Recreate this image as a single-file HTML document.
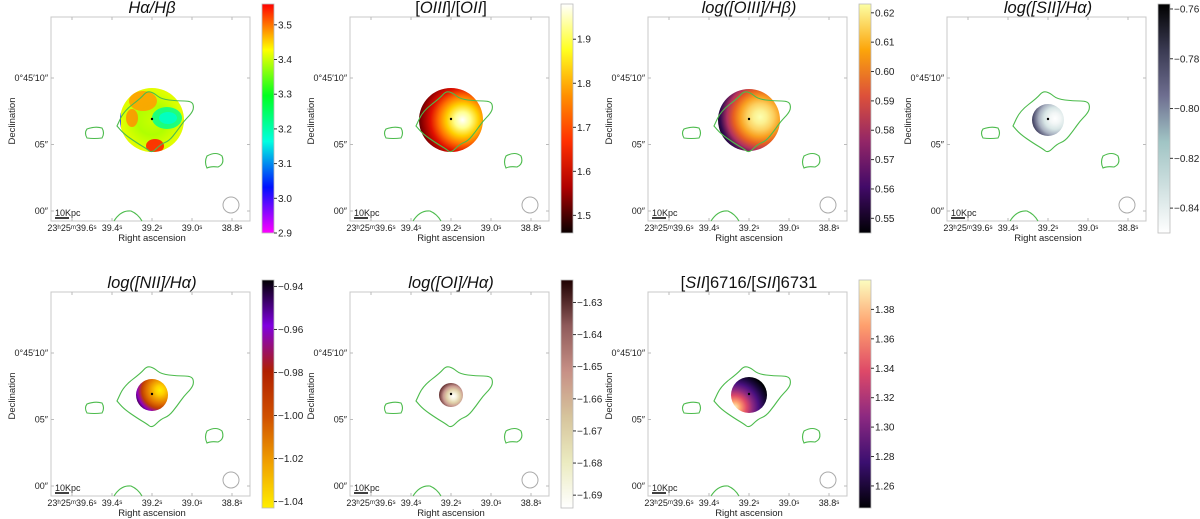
<!DOCTYPE html>
<html><head><meta charset="utf-8"><style>
html,body{margin:0;padding:0;background:#fff;}
svg{display:block;font-family:"Liberation Sans",sans-serif;}
</style></head><body>
<svg id="fig" width="1200" height="519" viewBox="0 0 1200 519" xmlns="http://www.w3.org/2000/svg"><defs id="defs"></defs></svg>
<script>
// colorbar tick values per panel
const ticks1 = [2.9,3.0,3.1,3.2,3.3,3.4,3.5];
const ticks2 = [1.5,1.6,1.7,1.8,1.9];
const ticks3 = [0.55,0.56,0.57,0.58,0.59,0.60,0.61,0.62];
const ticks4 = [-0.84,-0.82,-0.80,-0.78,-0.76];
const ticks5 = [-1.04,-1.02,-1.00,-0.98,-0.96,-0.94];
const ticks6 = [-1.69,-1.68,-1.67,-1.66,-1.65,-1.64,-1.63];
const ticks7 = [1.26,1.28,1.30,1.32,1.34,1.36,1.38];
// colorbar ranges [min,max]
const ranges = [[2.9,3.56],[1.46,1.98],[0.545,0.623],[-0.85,-0.758],[-1.043,-0.937],[-1.694,-1.623],[1.245,1.40]];
const titles = ['<tspan font-style="italic">Hα/Hβ</tspan>','[<tspan font-style="italic">OIII</tspan>]/[<tspan font-style="italic">OII</tspan>]','<tspan font-style="italic">log([OIII]/Hβ)</tspan>','<tspan font-style="italic">log([SII]/Hα)</tspan>','<tspan font-style="italic">log([NII]/Hα)</tspan>','<tspan font-style="italic">log([OI]/Hα)</tspan>','[<tspan font-style="italic">SII</tspan>]6716/[<tspan font-style="italic">SII</tspan>]6731'];
const allTicks=[ticks1,ticks2,ticks3,ticks4,ticks5,ticks6,ticks7];
const cmaps=[
 ['#ff00ff','#0010ff','#00ffe0','#00ff20','#ffff00','#ff0000'],
 ['#0a0000','#b00000','#ff3000','#ff9000','#ffff20','#ffffff'],
 ['#000004','#420a68','#932667','#dd513a','#fca50a','#fcffa4'],
 ['#ffffff','#cfe0e0','#a0c4c4','#6e6e90','#3a3a52','#000000'],
 ['#ffee00','#f0a000','#d05000','#b02000','#8000e0','#000000'],
 ['#ffffff','#ebebc0','#d6c49c','#c79086','#8f5a5a','#1e0000'],
 ['#000004','#3b0f70','#8c2981','#de4968','#fe9f6d','#fcfdbf']];
// disk maps: [radius, radial centre fx,fy, gradient radius, colors centre->edge]
const disks=[
 [32,0.5,0.5,0.7,['#c8ff00','#b0ff00','#e0ff00','#ffe000']],
 [32,0.68,0.5,0.75,['#ffffff','#ffff90','#ffd000','#ff7000','#e01000','#900000','#200000']],
 [31,0.68,0.45,0.75,['#fcffb0','#fcf090','#fcd060','#f9a020','#e86020','#b03060','#300a50','#000004']],
 [16,0.72,0.45,0.85,['#ffffff','#f2f6f6','#d8e6e6','#a8b0c0','#505070','#101018']],
 [16,0.75,0.35,0.85,['#ffee00','#ffd000','#f0a000','#e07000','#c04000','#9000c0','#100010']],
 [12,0.6,0.55,0.7,['#ffffff','#f4f0d8','#e0d0a8','#c89890','#7a4444','#2a0808']],
 [18,0.1,0.85,1.0,['#fcfdbf','#fe9f6d','#de4968','#8c2981','#4a1080','#1c0840','#000004']]];
const cols=[51,350,648,947];
const S=document.getElementById('fig'), D=document.getElementById('defs');
const NS='http://www.w3.org/2000/svg';
function el(p,t,a){const e=document.createElementNS(NS,t);for(const k in a)e.setAttribute(k,a[k]);p.appendChild(e);return e;}
function grad(id,colors,x1,y1,x2,y2){const g=el(D,'linearGradient',{id:id,x1:x1,y1:y1,x2:x2,y2:y2});colors.forEach((c,i)=>el(g,'stop',{offset:i/(colors.length-1),'stop-color':c}));}
function rgrad(id,colors,cx,cy,r){const g=el(D,'radialGradient',{id:id,cx:cx,cy:cy,r:r});colors.forEach((c,i)=>el(g,'stop',{offset:i/(colors.length-1),'stop-color':c}));}
const big=[[66,109],[73,94],[90,81],[96,74],[103,76],[110,82],[126,84],[141,84],[143,91],[140,97],[133,104],[126,114],[118,124],[110,127],[101,136],[96,132],[86,126],[73,117]];
function smooth(pts){let d='M'+pts[0].join(',');for(let i=1;i<=pts.length;i++){const p=pts[i%pts.length],q=pts[(i-1)];const mx=(p[0]+q[0])/2,my=(p[1]+q[1])/2;d+=' Q'+q[0]+','+q[1]+' '+mx+','+my;}return d+'Z';}
for(let i=0;i<7;i++){
 const L=cols[i%4], T=i<4?17:292, W=199, H=204;
 const g=el(S,'g',{transform:`translate(${L},${T})`});
 
 
 el(g,'rect',{x:0,y:0,width:W,height:H,fill:'#fff',stroke:'#c8c8c8','stroke-width':1});
 const dk=disks[i];
 rgrad('dg'+i,dk[4],dk[1],dk[2],dk[3]);
 const disk=el(g,'circle',{cx:101,cy:103,r:dk[0],fill:`url(#dg${i})`});
 
 
 if(i===0){
  const cp=el(D,'clipPath',{id:'dc0'});el(cp,'circle',{cx:101,cy:103,r:32});
  const b=el(g,'g',{'clip-path':'url(#dc0)'});
  el(b,'ellipse',{cx:92,cy:84,rx:14,ry:10,fill:'#ffa000',opacity:0.9});
  el(b,'ellipse',{cx:81,cy:101,rx:6,ry:9,fill:'#ff9000',opacity:0.85});
  el(b,'ellipse',{cx:116,cy:101,rx:15,ry:11,fill:'#00ff90',opacity:0.85});
  el(b,'ellipse',{cx:117,cy:101,rx:9,ry:6,fill:'#00ffc8',opacity:0.9});
  el(b,'ellipse',{cx:104,cy:129,rx:9,ry:7,fill:'#ff2000',opacity:0.9});
  el(b,'rect',{x:66,y:90,width:4,height:25,fill:'#3040ff'});
  el(b,'rect',{x:120,y:70,width:12,height:6,fill:'#6020ff'});
 }
 el(g,'circle',{cx:101,cy:102,r:1.2,fill:'#000'});
 const c1=el(g,'path',{d:smooth(big),fill:'none',stroke:'#4cbb4c','stroke-width':1.1});
 
 
 el(g,'path',{d:'M36,112 Q44,109 51,111 Q54,116 51,121 Q43,122 36,121 Q33,116 36,112Z',fill:'none',stroke:'#4cbb4c','stroke-width':1.1});
 el(g,'path',{d:'M156,139 Q165,134 171,139 Q174,147 167,150 Q160,149 156,151 Q153,145 156,139Z',fill:'none',stroke:'#4cbb4c','stroke-width':1.1});
 el(g,'path',{d:'M63,204 Q70,193 80,194 Q87,197 91,204',fill:'none',stroke:'#4cbb4c','stroke-width':1.1});
 const bm=el(g,'circle',{cx:180,cy:188,r:8,fill:'none',stroke:'#aaa','stroke-width':1});
 
 
 el(g,'line',{x1:4,y1:201,x2:18,y2:201,stroke:'#000','stroke-width':1.5});
 const sb=el(g,'text',{x:4,y:199,'font-size':9,fill:'#222'});sb.textContent='10Kpc';
 
 
 const xl=['23ʰ25ᵐ39.6ˢ','39.4ˢ','39.2ˢ','39.0ˢ','38.8ˢ'];
 xl.forEach((t,k)=>{const x=21+40*k;el(g,'line',{x1:x,y1:0,x2:x,y2:3,stroke:'#bbb'});el(g,'line',{x1:x,y1:H,x2:x,y2:H-3,stroke:'#bbb'});
  const tx=el(g,'text',{x:x,y:H+10,'font-size':9,'text-anchor':'middle',fill:'#222'});tx.textContent=t;
  
  });
 const yl=['0°45′10″','05″','00″'];
 yl.forEach((t,k)=>{const y=61+66.5*k;el(g,'line',{x1:0,y1:y,x2:3,y2:y,stroke:'#bbb'});el(g,'line',{x1:W,y1:y,x2:W-3,y2:y,stroke:'#bbb'});
  const ty=el(g,'text',{x:-3,y:y+3,'font-size':9,'text-anchor':'end',fill:'#222'});ty.textContent=t;
  
  });
 const xt=el(g,'text',{x:101,y:H+20,'font-size':9.5,'text-anchor':'middle',fill:'#222'});xt.textContent='Right ascension';
 
 
 const yt=el(g,'text',{x:0,y:0,'font-size':9.5,'text-anchor':'middle',fill:'#222',transform:'translate(-36,104) rotate(-90)'});yt.textContent='Declination';
 
 
 const tt=el(g,'text',{x:101,y:-4,'font-size':16.5,'text-anchor':'middle',fill:'#111'});tt.innerHTML=titles[i];
 
 
 const cx=L+211, cy0=i<4?4:280, ch=i<4?229:228;
 grad('cb'+i,cmaps[i].slice().reverse(),0,0,0,1);
 const cb=el(S,'rect',{x:cx,y:cy0,width:12,height:ch,fill:`url(#cb${i})`,stroke:'#bbb','stroke-width':0.8});
 
 
 const [mn,mx]=ranges[i];
 const yv=v=>cy0+ch-(v-mn)/(mx-mn)*ch;
 allTicks[i].forEach(v=>{const y=yv(v);el(S,'line',{x1:cx+12,y1:y,x2:cx+15,y2:y,stroke:'#333'});
  const lb=el(S,'text',{x:cx+16,y:y+3.5,'font-size':10,fill:'#222'});
  lb.textContent=(Math.abs(v)<10?v.toFixed(String(allTicks[i][0]).split('.')[1].length):v).replace('-','−');
  
  });
}
</script>
</body></html>
